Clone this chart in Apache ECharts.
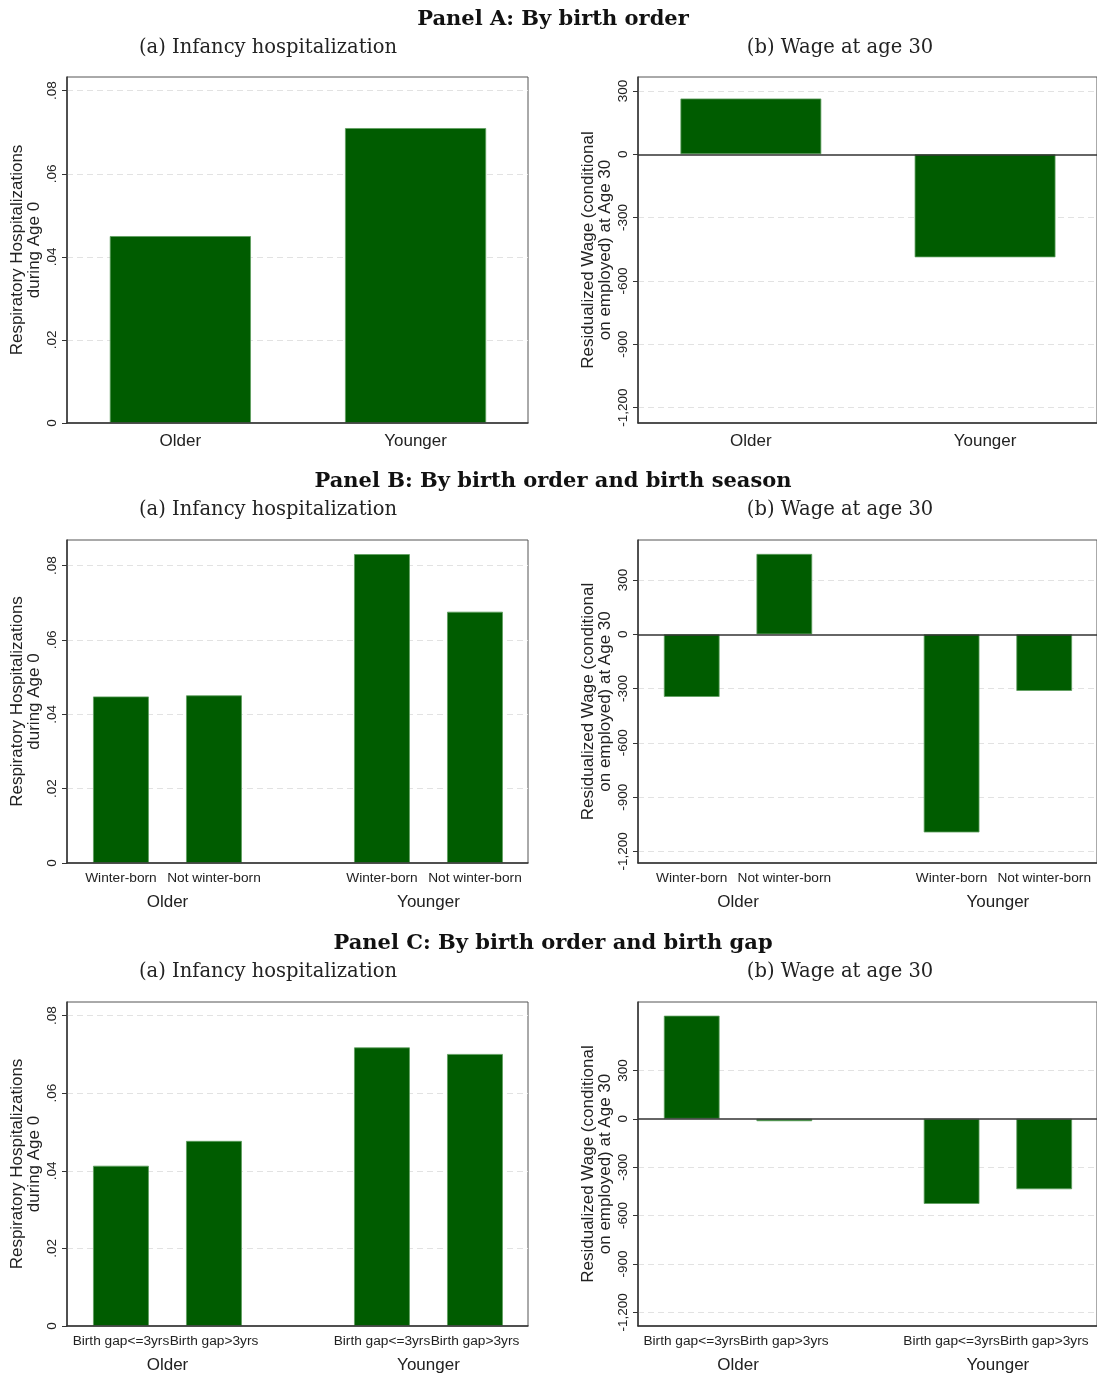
<!DOCTYPE html>
<html>
<head>
<meta charset="utf-8">
<script src="https://cdn.jsdelivr.net/npm/echarts@6/dist/echarts.min.js"></script>
<style>
html,body{margin:0;padding:0;background:#fff;}
#chart{width:1097px;height:1374px;}
</style>
</head>
<body>
<div id="chart"></div>
<script>
// ---------- data ----------
const panelTitles = ['Panel A: By birth order', 'Panel B: By birth order and birth season', 'Panel C: By birth order and birth gap'];
const subTitles = ['(a) Infancy hospitalization', '(b) Wage at age 30'];
const groupNames = ['Older', 'Younger'];
const seasonLabels = ['Winter-born', 'Not winter-born'];
const gapLabels = ['Birth gap<=3yrs', 'Birth gap>3yrs'];

const hospTicks = [0, 0.02, 0.04, 0.06, 0.08];
const hospTickLabels = ['0', '.02', '.04', '.06', '.08'];
const wageTicks = [-1200, -900, -600, -300, 0, 300];
const wageTickLabels = ['-1,200', '-900', '-600', '-300', '0', '300'];

const hospNameText = 'Respiratory Hospitalizations\nduring Age 0';
const wageNameText = 'Residualized Wage (conditional\non employed) at Age 30';

// Panel A: Older, Younger
const hospA = [0.0450, 0.0710];
const wageA = [264, -488];
// Panel B: Older(Winter, Not winter), Younger(Winter, Not winter)
const hospB = [0.0448, 0.0451, 0.0831, 0.0676];
const wageB = [-346, 444, -1095, -313];
// Panel C: Older(gap<=3, gap>3), Younger(gap<=3, gap>3)
const hospC = [0.0413, 0.0477, 0.0718, 0.0701];
const wageC = [639, -15, -528, -437];

// ---------- layout ----------
const FONT = "'Liberation Sans', Arial, sans-serif";
const SERIF = "'DejaVu Serif', 'Liberation Serif', serif";
const BAR_COLOR = '#005c00';
const BAR_BORDER = '#5e9e5e';

const rows = [
  {title: panelTitles[0], titleTop: 9, subTop: 38, top: 77, h: 346, sub: null, hosp: hospA, wage: wageA, hospExt: [0, 0.0833], wageExt: [-1273, 366]},
  {title: panelTitles[1], titleTop: 471, subTop: 500, top: 540, h: 323, sub: seasonLabels, hosp: hospB, wage: wageB, hospExt: [0, 0.0869], wageExt: [-1264, 521]},
  {title: panelTitles[2], titleTop: 933, subTop: 962, top: 1002, h: 324, sub: gapLabels, hosp: hospC, wage: wageC, hospExt: [0, 0.0835], wageExt: [-1285, 724]}
];
const cols = [
  {left: 67, width: 461, subCenter: 268},
  {left: 638, width: 460, subCenter: 840}
];

// slot layout along x (unit = distance between adjacent bars of a group)
const layout2 = {pos: [0, 1], groupPos: null, min: -0.482, max: 1.478, barFrac: 0.6};
const layout4 = {pos: [0, 1, 2.806, 3.806], groupPos: [0.5, 3.306], min: -0.58, max: 4.376, barFrac: 0.6};

function nearest(arr, v) {
  let bi = 0, bd = Infinity;
  arr.forEach((a, i) => { const d = Math.abs(a - v); if (d < bd) { bd = d; bi = i; } });
  return bi;
}

const option = {
  animation: false,
  backgroundColor: '#fff',
  title: [], grid: [], xAxis: [], yAxis: [], series: []
};

rows.forEach((row, r) => {
  option.title.push({
    text: row.title, left: 553, top: row.titleTop, textAlign: 'center', padding: 0,
    textStyle: {fontFamily: SERIF, fontWeight: 'bold', fontSize: 21, color: '#111'}
  });
  cols.forEach((col, c) => {
    option.title.push({
      text: subTitles[c], left: col.subCenter, top: row.subTop, textAlign: 'center', padding: 0,
      textStyle: {fontFamily: SERIF, fontWeight: 'normal', fontSize: 19.5, color: '#222'}
    });
    const gi = option.grid.length;
    option.grid.push({
      left: col.left, top: row.top, width: col.width, height: row.h,
      show: true, borderColor: '#555', borderWidth: 1, backgroundColor: '#fff'
    });
    const lay = row.sub ? layout4 : layout2;
    const isHosp = c === 0;
    const values = isHosp ? row.hosp : row.wage;
    const ext = isHosp ? row.hospExt : row.wageExt;
    const ticks = isHosp ? hospTicks : wageTicks;
    const tickLabels = isHosp ? hospTickLabels : wageTickLabels;

    // x axes
    const xi = option.xAxis.length;
    const subLabels = row.sub ? lay.pos.map((p, i) => row.sub[i % 2]) : groupNames;
    option.xAxis.push({
      type: 'value', gridIndex: gi, min: lay.min, max: lay.max, position: 'bottom', z: 10,
      axisLine: {show: true, onZero: false, lineStyle: {color: '#333', width: 1.5}},
      axisTick: {show: false}, splitLine: {show: false},
      axisLabel: {
        customValues: lay.pos, margin: row.sub ? 8 : 10, hideOverlap: false,
        showMinLabel: true, showMaxLabel: true,
        formatter: v => subLabels[nearest(lay.pos, v)],
        fontFamily: FONT, fontSize: row.sub ? 13.7 : 17, color: '#222'
      }
    });
    if (row.sub) {
      option.xAxis.push({
        type: 'value', gridIndex: gi, min: lay.min, max: lay.max, position: 'bottom',
        axisLine: {show: false}, axisTick: {show: false}, splitLine: {show: false},
        axisLabel: {
          customValues: lay.groupPos, margin: 31, hideOverlap: false,
          formatter: v => groupNames[nearest(lay.groupPos, v)],
          fontFamily: FONT, fontSize: 17, color: '#222'
        }
      });
    }
    // y axis
    const yi = option.yAxis.length;
    option.yAxis.push({
      type: 'value', gridIndex: gi, min: ext[0], max: ext[1], z: 10,
      name: isHosp ? hospNameText : wageNameText,
      nameLocation: 'middle', nameRotate: 90, nameGap: 24,
      nameTextStyle: {fontFamily: FONT, fontSize: 17, lineHeight: 17, color: '#222'},
      axisLine: {show: true, onZero: false, lineStyle: {color: '#333', width: 1.5}},
      axisTick: {show: true, customValues: ticks, length: 5, lineStyle: {color: '#333'}},
      splitLine: {show: false},
      axisLabel: {
        customValues: ticks, rotate: 90, margin: 8, hideOverlap: false,
        formatter: v => tickLabels[nearest(ticks, v)],
        fontFamily: FONT, fontSize: 13.5, color: '#222'
      }
    });
    // gridlines (behind bars)
    option.series.push({
      type: 'line', xAxisIndex: xi, yAxisIndex: yi, data: [], z: 1, silent: true,
      markLine: {
        silent: true, symbol: 'none', animation: false, z: 1,
        label: {show: false},
        lineStyle: {type: [6, 4], color: '#e2e2e2', width: 1},
        data: ticks.filter(t => t !== 0).map(t => ({yAxis: t}))
      }
    });
    // bars
    const barW = lay.barFrac * col.width / (lay.max - lay.min);
    option.series.push({
      type: 'bar', xAxisIndex: xi, yAxisIndex: yi, z: 3, barWidth: barW,
      itemStyle: {color: BAR_COLOR, borderColor: BAR_BORDER, borderWidth: 0.8},
      data: values.map((v, i) => [lay.pos[i], v])
    });
    // zero line for wage panels
    if (!isHosp) {
      option.series.push({
        type: 'line', xAxisIndex: xi, yAxisIndex: yi, data: [], z: 6, silent: true,
        markLine: {
          silent: true, symbol: 'none', animation: false, z: 6, label: {show: false},
          lineStyle: {type: 'solid', color: '#333', width: 1.5},
          data: [{yAxis: 0}]
        }
      });
    }
  });
});

const chart = echarts.init(document.getElementById('chart'), null, {renderer: 'canvas'});
chart.setOption(option);
</script>
</body>
</html>
